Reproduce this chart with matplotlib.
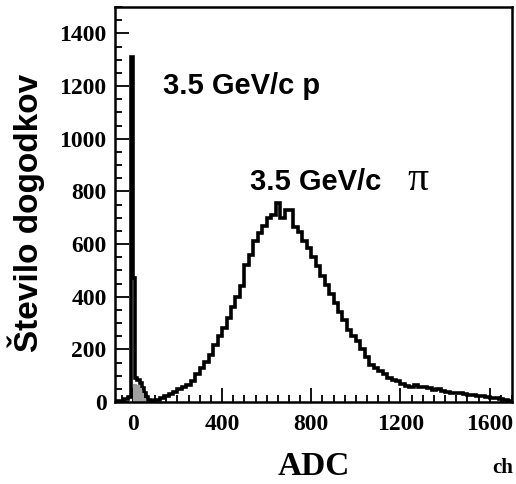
import numpy as np
import matplotlib
matplotlib.use("Agg")
import matplotlib.pyplot as plt
from matplotlib.ticker import MultipleLocator

# ---- data ----
# proton region, fine bins
p_edges = [-80, -40, -20, -8, 0, 8, 20, 30, 40, 50, 60, 70, 80, 100]
p_counts = [3, 12, 20, 1310, 470, 90, 84, 72, 55, 35, 18, 9, 5]
# gray filled proton component
g_edges = [0, 10, 20, 30, 40, 50, 60]
g_counts = [70, 70, 64, 52, 34, 14]
# pion region, 20-ch bins starting at 100
pi_left = list(range(100, 1700, 20))
pi_counts = [8, 14, 22, 30, 38, 48, 56, 66, 80, 105, 130, 152, 180, 215, 250, 282,
             318, 360, 400, 440, 520, 560, 612, 640, 668, 700, 712, 755, 700, 730,
             728, 665, 645, 610, 585, 550, 515, 480, 445, 410, 375, 340, 310, 275,
             250, 232, 200, 172, 140, 128, 118, 105, 92, 83, 78, 70, 62, 58, 64, 56,
             58, 52, 46, 48, 40, 37, 36, 33, 35, 30, 28, 26, 24, 22, 20, 17, 14, 10,
             7, 3]
y_ticks = [0, 200, 400, 600, 800, 1000, 1200, 1400]
x_ticks = [0, 400, 800, 1200, 1600]

edges = p_edges[:-1] + pi_left + [1700]
counts = p_counts + pi_counts

W, H = 516, 484
fig = plt.figure(figsize=(W / 100, H / 100), dpi=100)
ax = fig.add_axes([115 / W, 1 - 402 / H, (512 - 115) / W, (402 - 7) / H])

ax.stairs(counts, edges, color="black", linewidth=2.6, zorder=3)
ax.stairs(g_counts, g_edges, fill=True, color="#a0a0a0", zorder=4)

ax.set_xlim(-80, 1700)
ax.set_ylim(0, 1500)
ax.set_xticks(x_ticks)
ax.set_yticks(y_ticks)
ax.xaxis.set_minor_locator(MultipleLocator(50))
ax.yaxis.set_minor_locator(MultipleLocator(50))
ax.tick_params(which="both", direction="in", top=False, right=False, width=1.3)
ax.tick_params(which="major", length=10)
ax.tick_params(which="minor", length=5)
ax.tick_params(axis="y", pad=6)
ax.tick_params(axis="x", pad=9)
for lab in ax.get_xticklabels() + ax.get_yticklabels():
    lab.set_fontfamily("Liberation Serif")
    lab.set_fontweight("bold")
    lab.set_fontsize(17)
for s in ax.spines.values():
    s.set_linewidth(1.8)
    s.set_zorder(5)

ax.text(135, 1168, "3.5 GeV/c p", family="Liberation Sans", weight="bold",
        fontsize=21, ha="left", va="baseline")
ax.text(526, 804, "3.5 GeV/c", family="Liberation Sans", weight="bold",
        fontsize=21, ha="left", va="baseline")
ax.text(1230, 804, "π", family="Liberation Serif", fontsize=30,
        ha="left", va="baseline")

fig.text(314 / W, 1 - 475 / H, "ADC", family="Liberation Serif", weight="bold",
         fontsize=24, ha="center", va="baseline")
fig.text(513 / W, 1 - 473 / H, "ch", family="Liberation Serif", weight="bold",
         fontsize=15, ha="right", va="baseline")
fig.text(26 / W, 1 - 213 / H, "Število dogodkov", family="Liberation Sans",
         weight="bold", fontsize=24, rotation=90, ha="center", va="center")

fig.savefig("out.png", dpi=100)
